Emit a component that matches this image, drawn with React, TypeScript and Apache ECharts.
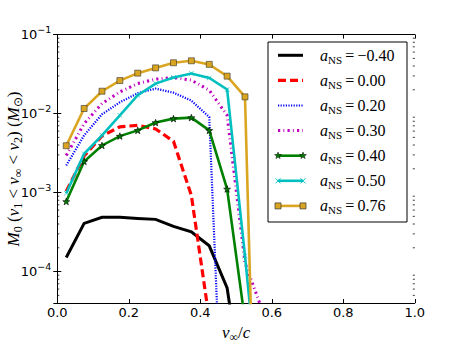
import React, { useEffect, useRef } from 'react';
import * as echarts from 'echarts';

// velocity bins v_inf / c
const vBins = [0.025, 0.075, 0.125, 0.175, 0.225, 0.275, 0.325, 0.375, 0.425, 0.475, 0.525, 0.575, 0.625];

// M0(v1 < v_inf < v2) in solar masses, one array per NS spin
const massM040 = [1.51e-4, 4.07e-4, 4.86e-4, 4.86e-4, 4.71e-4, 4.58e-4, 3.73e-4, 3.19e-4, 2.12e-4, 6.2e-5, 2e-6];
const mass000 = [1.04e-3, 2.9e-3, 5.2e-3, 6.8e-3, 7.1e-3, 6.4e-3, 4.45e-3, 9.2e-4, 2.5e-5, 1e-8];
const mass020 = [2.2e-3, 5.3e-3, 9.8e-3, 1.39e-2, 1.81e-2, 2.07e-2, 1.84e-2, 1.46e-2, 9.05e-3, 3e-8];
const mass030 = [2.95e-3, 7.46e-3, 1.34e-2, 1.88e-2, 2.4e-2, 2.73e-2, 2.86e-2, 2.65e-2, 1.98e-2, 9.5e-3, 1.29e-4, 3.1e-5, 1e-8];
const mass040 = [7.7e-4, 2.48e-3, 3.95e-3, 5.19e-3, 6.13e-3, 7.69e-3, 8.63e-3, 8.89e-3, 6.13e-3, 1.11e-3, 2.4e-5, 1e-8];
const mass050 = [9.8e-4, 3.1e-3, 5.3e-3, 9.5e-3, 1.71e-2, 2.4e-2, 2.86e-2, 3.22e-2, 2.83e-2, 2.02e-2, 1.58e-4, 8e-7];
const mass076 = [3.92e-3, 1.16e-2, 1.92e-2, 2.62e-2, 3.25e-2, 3.79e-2, 4.4e-2, 4.66e-2, 4.2e-2, 2.98e-2, 1.63e-2, 1e-10];

const spinLabels = ['\u22120.40', '0.00', '0.20', '0.30', '0.40', '0.50', '0.76'];
const xTicks = [0, 0.2, 0.4, 0.6, 0.8, 1.0];
const yDecades = [-5, -4, -3, -2];
const yMin = 4e-5;
const yMax = 0.1;

const STAR = 'path://M0,-10L2.35,-3.24L9.51,-3.09L3.8,1.24L5.88,8.09L0,4L-5.88,8.09L-3.8,1.24L-9.51,-3.09L-2.35,-3.24Z';
const XMARK = 'path://M-5,-4.3L-4.3,-5L0,-0.7L4.3,-5L5,-4.3L0.7,0L5,4.3L4.3,5L0,0.7L-4.3,5L-5,4.3L-0.7,0Z';

const SANS = 'DejaVu Sans';
const SERIF = 'Liberation Serif';

type Style = {
  color: string;
  width: number;
  dash: number[] | 'solid';
  symbol: string;
  symbolSize: number;
  border?: string;
};

const styles: Style[] = [
  { color: '#000000', width: 3, dash: 'solid', symbol: 'none', symbolSize: 0 },
  { color: '#ff0000', width: 3.2, dash: [8, 4], symbol: 'none', symbolSize: 0 },
  { color: '#0000ff', width: 2.2, dash: [1.2, 1.4], symbol: 'none', symbolSize: 0 },
  { color: '#bf00bf', width: 3, dash: [2.2, 3.2, 0.9, 3.2], symbol: 'none', symbolSize: 0 },
  { color: '#008000', width: 2.6, dash: 'solid', symbol: STAR, symbolSize: 7, border: '#000' },
  { color: '#00bfbf', width: 2.6, dash: 'solid', symbol: XMARK, symbolSize: 5 },
  { color: '#daa520', width: 2.6, dash: 'solid', symbol: 'rect', symbolSize: 6, border: '#333' },
];

const allMass = [massM040, mass000, mass020, mass030, mass040, mass050, mass076];

const minorTicks: number[] = [];
yDecades.forEach((e) => {
  for (let k = 2; k <= 9; k++) {
    const v = k * Math.pow(10, e);
    if (v > yMin && v < yMax) minorTicks.push(v);
  }
});

const mathRich = {
  i: { fontFamily: SERIF, fontStyle: 'italic', fontSize: 17, fill: '#000', color: '#000', lineHeight: 22, verticalAlign: 'middle' },
  r: { fontFamily: SERIF, fontSize: 17, fill: '#000', color: '#000', lineHeight: 22, verticalAlign: 'middle' },
  sb: { fontFamily: SERIF, fontSize: 12, fill: '#000', color: '#000', lineHeight: 13, verticalAlign: 'bottom' },
};

function buildLegend() {
  const children: any[] = [];
  const x0 = 268;
  const y0 = 42;
  children.push({
    type: 'rect',
    shape: { x: x0, y: y0, width: 139, height: 180 },
    style: { fill: '#fff', stroke: '#000', lineWidth: 1 },
    z: 100,
  });
  spinLabels.forEach((lab, i) => {
    const s = styles[i];
    const y = 55.3 + i * 25.1;
    const xa = 278;
    const xb = 303;
    children.push({
      type: 'line',
      shape: { x1: xa, y1: y, x2: xb, y2: y },
      style: { stroke: s.color, lineWidth: s.width, lineDash: s.dash === 'solid' ? null : s.dash },
      z: 101,
    });
    [xa, xb].forEach((mx) => {
      if (i === 4) {
        const pts: number[][] = [];
        for (let k = 0; k < 10; k++) {
          const ang = (-90 + k * 36) * Math.PI / 180;
          const r = k % 2 === 0 ? 3.6 : 1.4;
          pts.push([mx + r * Math.cos(ang), y + r * Math.sin(ang)]);
        }
        children.push({ type: 'polygon', shape: { points: pts }, style: { fill: s.color, stroke: '#000', lineWidth: 0.5 }, z: 102 });
      } else if (i === 5) {
        children.push({ type: 'line', shape: { x1: mx - 2.5, y1: y - 2.5, x2: mx + 2.5, y2: y + 2.5 }, style: { stroke: s.color, lineWidth: 1 }, z: 102 });
        children.push({ type: 'line', shape: { x1: mx - 2.5, y1: y + 2.5, x2: mx + 2.5, y2: y - 2.5 }, style: { stroke: s.color, lineWidth: 1 }, z: 102 });
      } else if (i === 6) {
        children.push({ type: 'rect', shape: { x: mx - 3, y: y - 3, width: 6, height: 6 }, style: { fill: s.color, stroke: '#333', lineWidth: 0.7 }, z: 102 });
      }
    });
    children.push({
      type: 'text',
      x: 320,
      y: y,
      z: 102,
      style: {
        text: `{i|a}{s|NS}{r|\u2009=\u2009${lab}}`,
        verticalAlign: 'middle',
        align: 'left',
        rich: {
          i: { fontFamily: SERIF, fontStyle: 'italic', fontSize: 16, fill: '#000', lineHeight: 20, verticalAlign: 'middle' },
          s: { fontFamily: SERIF, fontSize: 11, fill: '#000', lineHeight: 12, verticalAlign: 'bottom' },
          r: { fontFamily: SERIF, fontSize: 16, fill: '#000', lineHeight: 20, verticalAlign: 'middle' },
        },
      },
    });
  });
  // y-axis title
  children.push({
    type: 'text',
    x: 13,
    y: 169,
    rotation: Math.PI / 2,
    z: 102,
    style: {
      text: '{i|M}{sb|0}{r| (}{i|v}{sb|1}{r| < }{i|v}{sb|\u221E}{r| < }{i|v}{sb|2}{r|) (}{i|M}{sb|\u2299}{r|)}',
      align: 'center',
      verticalAlign: 'middle',
      rich: mathRich,
    },
  });
  return children;
}

function buildOption(): any {
  const grid = { left: 57.3, top: 34.6, right: 46.2, bottom: 43, containLabel: false, outerBoundsMode: 'none' };
  const yLabelFormatter = (v: number) => {
    const e = Math.round(Math.log10(v));
    return `{b|10}{s|${e < 0 ? '\u2212' : ''}${Math.abs(e)}}`;
  };
  const axisLine = { show: true, lineStyle: { color: '#000', width: 1 } };
  const axisTick = { show: true, inside: true, length: 4, lineStyle: { color: '#000', width: 1 } };

  const series: any[] = allMass.map((arr, i) => {
    const s = styles[i];
    return {
      type: 'line',
      name: spinLabels[i],
      data: arr.map((m, k) => [vBins[k], m]),
      xAxisIndex: 0,
      yAxisIndex: 0,
      clip: true,
      symbol: s.symbol,
      symbolSize: s.symbolSize,
      symbolKeepAspect: true,
      showSymbol: s.symbol !== 'none',
      lineStyle: { color: s.color, width: s.width, type: s.dash, cap: 'butt', join: 'miter' },
      itemStyle: { color: s.color, borderColor: s.border || s.color, borderWidth: s.border ? 0.6 : 0 },
      emphasis: { disabled: true },
      z: 2 + i,
    };
  });

  series.push({
    type: 'custom',
    xAxisIndex: 0,
    yAxisIndex: 0,
    silent: true,
    clip: false,
    data: minorTicks.map((v) => [0, v]),
    renderItem: (params: any, api: any) => {
      const v = api.value(1);
      const p = api.coord([0, v]);
      const cs = params.coordSys;
      return {
        type: 'group',
        children: [
          { type: 'line', shape: { x1: cs.x, y1: p[1], x2: cs.x + 2, y2: p[1] }, style: { stroke: '#000', lineWidth: 0.8 } },
          { type: 'line', shape: { x1: cs.x + cs.width - 2, y1: p[1], x2: cs.x + cs.width, y2: p[1] }, style: { stroke: '#000', lineWidth: 0.8 } },
        ],
      };
    },
    z: 1,
  });

  return {
    animation: false,
    backgroundColor: '#fff',
    grid,
    xAxis: [
      {
        type: 'value',
        position: 'bottom',
        min: xTicks[0],
        max: xTicks[xTicks.length - 1],
        interval: 0.2,
        axisLine,
        axisTick,
        splitLine: { show: false },
        axisLabel: { formatter: (v: number) => v.toFixed(1), margin: 3, fontFamily: SANS, fontSize: 13, color: '#000' },
        name: '{i|v}{sb|\u221E}{r|/}{i|c}',
        nameLocation: 'middle',
        nameGap: 10,
        nameTextStyle: { rich: mathRich, verticalAlign: 'top' },
      },
      {
        type: 'value',
        position: 'top',
        min: xTicks[0],
        max: xTicks[xTicks.length - 1],
        interval: 0.2,
        axisLine,
        axisTick,
        splitLine: { show: false },
        axisLabel: { show: false },
      },
    ],
    yAxis: [
      {
        type: 'log',
        logBase: 10,
        position: 'left',
        min: yMin,
        max: yMax,
        axisLine,
        axisTick,
        splitLine: { show: false },
        axisLabel: {
          showMinLabel: false,
          margin: 6,
          formatter: yLabelFormatter,
          rich: {
            b: { fontFamily: SANS, fontSize: 13, color: '#000', lineHeight: 20, verticalAlign: 'middle' },
            s: { fontFamily: SANS, fontSize: 9.5, color: '#000', lineHeight: 10, verticalAlign: 'top' },
          },
        },
      },
      {
        type: 'log',
        logBase: 10,
        position: 'right',
        min: yMin,
        max: yMax,
        axisLine,
        axisTick,
        splitLine: { show: false },
        axisLabel: { show: false },
      },
    ],
    series,
    graphic: buildLegend(),
  };
}

export default function App() {
  const ref = useRef<HTMLDivElement>(null);
  useEffect(() => {
    const chart = echarts.init(ref.current!, null, { renderer: 'svg' });
    chart.setOption(buildOption());
    return () => chart.dispose();
  }, []);
  return <div ref={ref} style={{ position: 'absolute', left: 0, top: 0, width: 461, height: 346, background: '#fff' }} />;
}
